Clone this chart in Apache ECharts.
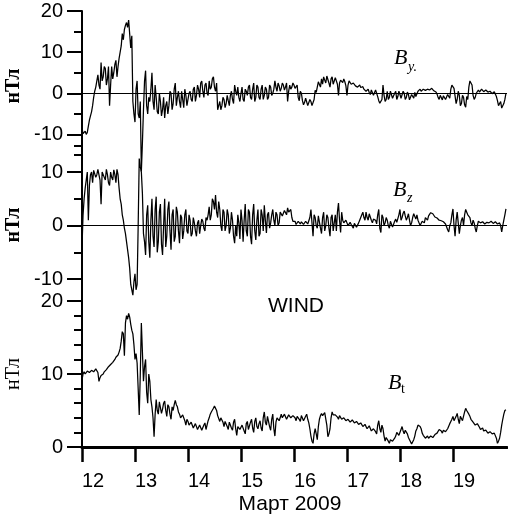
<!DOCTYPE html>
<html><head><meta charset="utf-8">
<script src="https://cdn.jsdelivr.net/npm/echarts@6/dist/echarts.min.js"></script>
<style>html,body{margin:0;padding:0;background:#fff}#c{width:508px;height:517px}</style>
</head><body><div id="c"></div>
<script>
const startDay = 12, stepDay = 0.02;
const dayTicks = [12, 13, 14, 15, 16, 17, 18, 19];

const byValues = [
 -8.5,-9.8,-9.5,-9.2,-10,-9.5,-8,-6.5,-5.5,-4.5,-3,-1,0.5,1.5,3,4.5,2,1,7.5,3,4,6.5,6,2,3.5,6.5,-3,2,6.5,3.5,5,7,8,4,6.5,8.5,10,11.5,14.5,13,
 15.5,16.5,17.2,16,17.8,17.5,11,14,-2,-5,-7,1,3,-5,-6,-2,-19,-12,-4,3,5.5,-3,-5,-1,-2,1,5,-2,-4,2,-1,-4.5,-5,0,-2,-5.5,-4,-1,-6,-3,
 -2,-5,-3,0.5,0,-4,-2.5,1,2.5,-3,-1,0.5,-2,-3.5,0.5,-1.5,-3.5,1,-0.5,-3,-1.5,0,0.5,-1.5,-2,1,1.5,-2,-0.5,2,1,-1,2.5,3,0.5,-1,2,2.5,0,-0.5,
 3,1,1.5,3.5,4,1.5,0.5,2.5,-4,-3,-2,-4,-3,-1,-1.5,-3.5,-2.5,-0.5,-1.8,-3,-0.5,0.5,-1.5,-2.5,2,0.5,-0.5,1.5,-1,-2,0,1.5,-1.5,-2,1,0.5,-0.5,1.5,2,-1,
 -1.5,1,2.5,-2,-1,2,1.5,-1,-1.5,1,2,-1.5,-0.5,1.5,1,-1.5,-1,2,1.5,-0.5,0,1,3,1.5,0.5,2.5,1.8,0.5,1.2,2.5,2,0.8,1.5,2.5,-2,0.5,2,1,1.5,2.5,
 2,1.2,1,2,-1,-1.8,0.5,0,-1.8,-2.8,-2.2,-1.2,-1.6,-3,-2.8,-1.5,-2,-3,-3.4,-1.5,0.7,0.2,1.5,2.8,2.4,1.5,3.5,2.2,4,3.2,2.5,4.2,3.8,2.5,1.5,3.5,4,2.2,3,3.8,
 3.6,2.2,-0.5,2.5,3.2,3.5,2.6,3.5,2.8,1.8,-0.5,2,3,2.8,2.2,2,2.5,2.6,1.8,2.2,1.5,1.8,2,1.4,1.2,1.6,1,1.2,0.5,0.4,1,0.2,-0.3,0.8,0.5,-0.5,-0.5,0.8,0,-0.8,
 -1.8,-2.4,-2.8,-1.5,2,-0.5,-2,-1.5,0.5,-1.5,-1,0.5,0.3,-1.2,-1.5,0,0.5,-1.5,-0.8,0.5,-0.3,-1.2,-1.5,0.5,0,-1.5,-1,0.3,-0.3,-1.6,-1.6,-0.3,-0.5,-1.2,0.2,-0.8,-0.5,0.5,0.8,1,
 0.5,0.4,1,0.6,0.7,1.1,1,0.6,0.8,1.2,1.2,0.8,0.6,0.9,0.3,-0.2,-1,-1.5,-0.5,-0.8,-1.6,-0.6,-0.8,-1.5,-1.2,-0.3,-0.5,-1.2,1,2,2.4,1.2,1.5,-2.5,-1.5,0.5,-0.5,-3,-2.5,-0.5,
 -1,-2.8,-3.4,-0.8,-1.5,1.5,3,2.6,2,-0.5,-1.5,-1,0,0.4,0.8,0.3,0.7,1,0.9,0.4,0.3,0.8,0.6,0.3,0,0.5,0.4,-0.1,-0.3,0.4,0.2,-0.8,-1.8,-3,-2.5,-2,-3.6,-3.2,-2.5,-1.5,
 0
];
const bzValues = [
 -4,2,5,7,8.5,10,1,7.5,9.5,10,8,10.3,10,9,9.5,10.5,10.3,8.5,4,10,9.8,9,8.5,10.5,9.5,8,7.5,10,9,8.5,10.4,9.5,8,10.5,9.5,7,5,4,2,1,
 -0.5,-1.5,-3,-4.5,-6,-8,-11,-12,-13,-10.5,-9,-12,-11,0,12.5,11,10,6,-1.5,-3,-5.5,2,3.8,-3,-6,1,5,-2,-4,3,5.4,-5,-3,2.5,4,-3.5,-5.5,0,5,-4,
 -2,3,4.5,-1,-4.5,2,3,-3,-2,3.5,2.5,-1,-3.3,2,1.5,-2.5,-1,2,3,-1,-1.5,2,1,-2,-1.5,1.5,0.5,-1,-2,0.5,1,-1.5,0,1.2,0.8,-0.5,-1,1.5,1,2,
 3.5,1,2,5,4.5,3,5.7,2.5,1.5,4.5,3,0,-1,3,2.5,-1,0,3,2,-1.5,-0.5,2.5,1,-2,-3.3,0,-2,2,0.5,-2.5,3,1,-3,1,4,-1,-2,3,2.5,-2,
 -3.5,2,4,-1,-2.7,1,3,-2,-1.5,3,2,-1,3.8,1,-1.4,2,2.5,-0.5,0.5,2,3,1,0,2.5,2,0,0.5,2.5,2.5,1.8,2.3,2.8,2.6,2,3.3,2.5,2.2,3,1.5,0.8,
 0.5,0.8,0.2,0,0.8,0.5,0.3,0.7,0.6,0.2,0.4,0.8,1,0.3,0,1.5,3,0.5,-2,2,1.5,0,-0.5,1.8,2,-0.5,-1.5,1.5,2.5,-1,0,2,1.5,-0.5,-2,1.5,2,-1,0.5,2,
 -1,2.5,4.2,1,-1.3,2.5,1,0.5,0.3,1,0.5,0,-0.3,0.6,0.2,0,-0.5,0.4,0.5,-0.3,0,0.5,1,1.5,2,2.5,1.5,1,2.5,1.5,1,2.2,2,1,0.5,1.2,1.5,1,0.3,2,
 3,-0.5,-1.3,2,1.5,0,0.5,1.5,1,0,-0.5,0.8,0.8,-0.3,0,0.8,1.2,0.6,0.3,2,3,1,1.5,2.3,2.7,1.8,1,1.5,2.2,1,0,0.5,1.5,2.2,2.5,1.2,2,1,0.5,0,
 0,0.8,1,0.5,1.5,1.2,1,1.8,2,2.4,2.6,2.2,2,1.6,1.5,1.4,1.2,1,0.8,0.9,1,0.7,0.5,0.3,0.2,-0.8,-1.2,0,0.5,2,3.1,0,-2,1,2.5,0.5,-1.5,0,1,1.5,
 0,2,3,2.5,2,2,1.5,0.5,0,1,0.5,-0.5,-1.2,0,0.8,0.6,0.5,0.6,0.7,0.5,0.3,0.5,0.6,0.5,0.5,0.7,0.8,0.5,0.4,0.6,0.7,0.4,0.3,0.6,0.5,0,-1.2,0,1,2,
 3.1
];
const btValues = [
 9.2,10,10.3,10,10.2,10.4,10.5,10.2,10.3,10.5,10.4,10.3,10.5,10.7,10.8,10.2,9,9.5,9.8,9.9,10,10.3,10.5,10.6,10.8,11,11.2,11.3,11.5,11.6,11.8,12,12.3,12.4,12.6,13,13.5,14.5,15.8,15.5,
 12.5,17,18,17.5,18.3,17.8,16.8,16,15.5,14,12,12.8,11.5,8,4.4,10,17,13,9,11,12,7.5,6,10,9,6.5,5.5,4,1.4,4.5,6.5,5,4.5,6.2,6,4.6,5.2,6,6.3,5,
 4.2,5.8,5.5,4.5,3.8,5.5,5,5.8,6.4,5.8,5.5,4.8,4.5,4,3.8,4.4,4.2,3.6,3,3.8,3.5,3,2.8,3.4,3.2,2.6,2.5,3.2,3,2.4,2.3,3,2.8,2.3,2.2,3,3.3,2.4,2.5,3.6,
 4,4.5,4.8,5,5.3,5.6,5.7,5,4.3,3.9,3.5,4,4.1,3.4,2.8,3.5,3.6,2.8,2.4,3.4,3.2,2.6,2.3,3.4,3.8,2.5,1.6,2.8,3,2.4,2.2,3,2.8,2.2,1.8,3.2,3.5,2.4,2.5,3.4,
 3.8,2.6,2,3.5,4,2.8,2.5,3.2,3.6,2.6,2.2,4,4.8,3.4,3,4.2,4,2.8,2.3,3.8,4.5,2.5,1.5,3.4,4,4.2,3.6,4,4.5,4,3.8,4.5,4.3,3.8,4,4.4,4.6,4,3.9,4.3,
 4.2,4,3.6,4.2,4.4,3.8,3.5,4.3,4.1,3.6,3.4,4.2,4.5,3.8,3.3,2.5,1.5,0.8,0.5,1.8,2.5,1.8,1,2.8,3.8,4.3,4.6,4.3,4.2,4.7,4.8,3,1.4,1.8,2.5,4,4.8,4.4,4.2,4.4,
 4.6,4.1,3.8,4.3,4.1,3.8,3.7,4,3.9,3.6,3.5,3.8,3.7,3.4,3.3,3.7,3.6,3.3,3.2,3.5,3.4,3.1,3,3.3,3.2,2.8,2.6,3.1,3,2.5,2.3,2.9,2.8,2.2,2,2.5,2.6,2.1,1.8,3,
 3.6,2.5,2,3,2.5,1.5,0.8,1.3,1.5,0.8,0.5,1,1.2,0.8,0.6,1.2,1.5,2,2.2,1.6,1.5,2.4,2.8,2.2,1.8,2.3,2.5,1.8,1.3,1,0.8,0.4,0.2,1,1.5,2.2,2.5,3,3.2,2.8,
 2.5,1.9,1.6,1.4,1.2,1.4,1.5,1.2,1.3,1.5,1.6,1.3,1.4,1.7,1.8,1.9,2,2.4,2.6,2.2,1.9,2.3,2.4,2.1,2,2.5,2.7,3.2,3.5,3.8,4.2,3.6,3.4,4.2,4.6,3.8,3.2,4.2,4.4,3.6,
 3.8,4.8,5.3,5,4.8,4.5,4.2,3.8,3.6,3.4,3.2,3,2.8,3.2,3.1,2.7,2.4,2.6,2.6,2.2,2,2.3,2.2,1.9,1.7,2.1,2,1.8,1.6,1.9,1.8,1.2,0.5,0.8,1.2,2,3,3.8,4.5,5,
 5.1
];

const byMajor = [-10, 0, 10, 20], byMinor = [-15, -5, 5, 15];
const bzMajor = [-10, 0, 10], bzMinor = [-5, 5, 15];
const btMajor = [0, 10, 20], btMinor = [2, 4, 6, 8, 12, 14, 16, 18];

function toPairs(vals) {
  return vals.map((v, i) => [+(startDay + i * stepDay).toFixed(2), v]);
}

const X_MIN = 12, X_MAX = 20.02;
const LABEL_FONT = '"Liberation Sans", Arial, sans-serif';

function yMajor(g, min, max, ticks) {
  return {
    type: 'value', gridIndex: g, min: min, max: max, position: 'left',
    axisLine: { show: true, onZero: false, lineStyle: { color: '#000', width: 2 } },
    axisTick: { show: true, length: 15, customValues: ticks, lineStyle: { color: '#000', width: 2 } },
    axisLabel: { show: true, customValues: ticks, margin: 19, color: '#000', fontFamily: LABEL_FONT, fontSize: 20 },
    splitLine: { show: false }
  };
}
function yMinor(g, min, max, ticks) {
  return {
    type: 'value', gridIndex: g, min: min, max: max, position: 'left',
    axisLine: { show: false },
    axisTick: { show: true, length: 8, customValues: ticks, lineStyle: { color: '#000', width: 2 } },
    axisLabel: { show: false },
    splitLine: { show: false }
  };
}
function xHidden(g) {
  return { type: 'value', gridIndex: g, min: X_MIN, max: X_MAX, show: false };
}

const zeroLine = {
  symbol: 'none', silent: true, animation: false,
  label: { show: false },
  lineStyle: { color: '#000', width: 1, type: 'solid' },
  data: [{ yAxis: 0 }]
};

function lineSeries(g, yIdx, vals, withZero) {
  const s = {
    type: 'line', xAxisIndex: g, yAxisIndex: yIdx, data: toPairs(vals),
    showSymbol: false, symbol: 'none', clip: false, animation: false,
    lineStyle: { color: '#000', width: 1.25 }
  };
  if (withZero) s.markLine = zeroLine;
  return s;
}

function txt(x, y, text, font, align, rotation) {
  const el = {
    type: 'text', x: x, y: y, z: 100,
    style: { text: text, font: font, fill: '#000', align: align || 'left', verticalAlign: 'middle' }
  };
  if (rotation) el.rotation = rotation;
  return el;
}

const chart = echarts.init(document.getElementById('c'), null, { renderer: 'canvas' });
chart.setOption({
  backgroundColor: '#fff',
  animation: false,
  grid: [
    { left: 82, right: 1, top: 11, height: 144 },
    { left: 82, right: 1, top: 145.25, height: 155.25 },
    { left: 82, right: 1, top: 301, height: 146 }
  ],
  xAxis: [
    xHidden(0), xHidden(1),
    {
      type: 'value', gridIndex: 2, min: X_MIN, max: X_MAX, position: 'bottom',
      axisLine: { show: true, onZero: false, lineStyle: { color: '#000', width: 3 } },
      axisTick: { show: true, length: 15, customValues: dayTicks, lineStyle: { color: '#000', width: 2.5 } },
      axisLabel: { show: true, customValues: dayTicks, align: 'left', margin: 24, color: '#000', fontFamily: LABEL_FONT, fontSize: 20 },
      splitLine: { show: false }
    }
  ],
  yAxis: [
    yMajor(0, -15, 20, byMajor), yMinor(0, -15, 20, byMinor),
    yMajor(1, -14, 15, bzMajor), yMinor(1, -14, 15, bzMinor),
    yMajor(2, 0, 20, btMajor), yMinor(2, 0, 20, btMinor)
  ],
  series: [
    lineSeries(0, 0, byValues, true),
    lineSeries(1, 2, bzValues, true),
    lineSeries(2, 4, btValues, false)
  ],
  graphic: [
    txt(14, 86, 'нТл', 'bold 20px "Liberation Serif"', 'center', Math.PI / 2),
    txt(14, 225, 'нТл', 'bold 20px "Liberation Serif"', 'center', Math.PI / 2),
    txt(14, 374, 'нТл', '20px "Liberation Serif"', 'center', Math.PI / 2),
    txt(394, 58, 'B', 'italic 22px "Liberation Serif"'),
    txt(408, 67, 'y.', 'italic 14px "Liberation Serif"'),
    txt(393, 190, 'B', 'italic 22px "Liberation Serif"'),
    txt(407, 198, 'z', 'italic 14px "Liberation Serif"'),
    txt(388, 383, 'B', 'italic 22px "Liberation Serif"'),
    txt(401, 389, 't', '14px "Liberation Serif"'),
    txt(296, 306, 'WIND', '21px "Liberation Sans"', 'center'),
    txt(290, 504, 'Март 2009', '21px "Liberation Sans"', 'center')
  ]
});
</script>
</body></html>
